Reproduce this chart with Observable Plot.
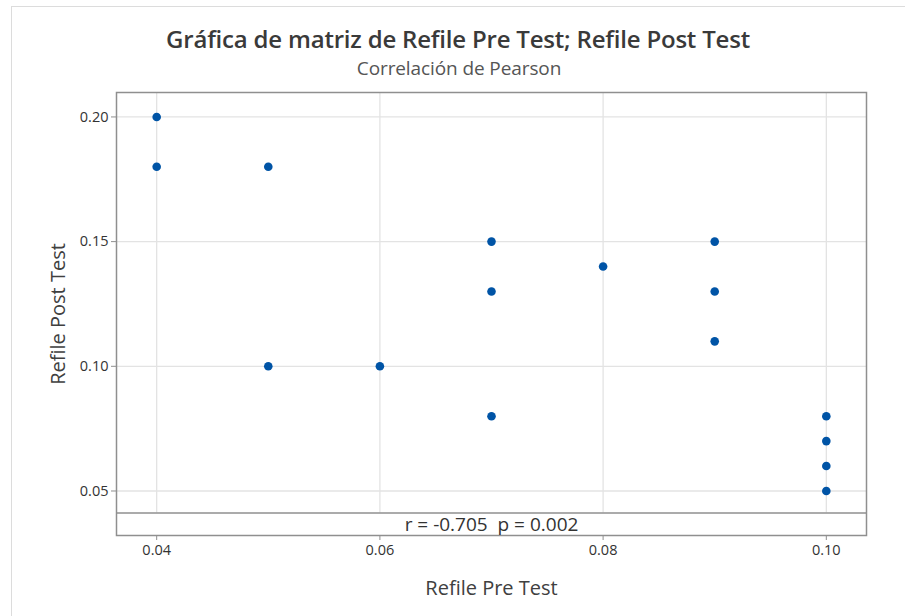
<!DOCTYPE html>
<html>
<head>
<meta charset="utf-8">
<script src="https://cdn.jsdelivr.net/npm/d3@7"></script>
<script src="https://cdn.jsdelivr.net/npm/@observablehq/plot@0.6"></script>
<style>
  html, body { margin: 0; padding: 0; background: #fff; }
  #wrap { position: relative; width: 905px; height: 616px; overflow: hidden; background: #fff; }
  #border { position: absolute; z-index: 2; left: 11px; top: 6px; right: -5px; bottom: -5px; border-left: 1.5px solid #dcdcdc; border-top: 1.5px solid #dcdcdc; pointer-events: none; }
  #title { position: absolute; left: 0; width: 916px; top: 22px; text-align: center; font-family: "Open Sans", sans-serif; font-weight: 600; font-size: 24px; color: #3a3a3a; letter-spacing: -0.2px; }
  #subtitle { position: absolute; left: 0; width: 918px; top: 55px; text-align: center; font-family: "Open Sans", sans-serif; font-size: 19px; color: #555; letter-spacing: -0.1px; }
  #chart { position: absolute; left: 0; top: 80px; }
</style>
</head>
<body>
<div id="wrap">
  <div id="border"></div>
  <div id="title">Gráfica de matriz de Refile Pre Test; Refile Post Test</div>
  <div id="subtitle">Correlación de Pearson</div>
  <div id="chart"></div>
</div>
<script>
const preTest  = [0.04, 0.04, 0.05, 0.05, 0.06, 0.07, 0.07, 0.07, 0.08, 0.09, 0.09, 0.09, 0.10, 0.10, 0.10, 0.10];
const postTest = [0.20, 0.18, 0.18, 0.10, 0.10, 0.15, 0.13, 0.08, 0.14, 0.15, 0.13, 0.11, 0.08, 0.07, 0.06, 0.05];
const xTicks = [0.04, 0.06, 0.08, 0.10];
const yTicks = [0.05, 0.10, 0.15, 0.20];
const xLabel = "Refile Pre Test";
const yLabel = "Refile Post Test";
const statText = "r = -0.705\u00a0 p = 0.002";

const data = preTest.map((x, i) => ({x, y: postTest[i]}));
const xDomain = [0.0364, 0.1036];
const yDomain = [0.03215, 0.2098];
const bandTop = 0.04118;
const font = "'Open Sans', sans-serif";

const chart = Plot.plot({
  width: 905,
  height: 536,
  marginLeft: 116,
  marginRight: 39,
  marginTop: 12,
  marginBottom: 81,
  style: {fontFamily: font, background: "transparent", color: "#333"},
  x: {domain: xDomain},
  y: {domain: yDomain},
  marks: [
    Plot.gridX(xTicks, {stroke: "#e3e3e3", strokeOpacity: 1, strokeWidth: 1.3, y1: bandTop, y2: yDomain[1]}),
    Plot.gridY(yTicks, {stroke: "#e3e3e3", strokeOpacity: 1, strokeWidth: 1.3}),
    Plot.ruleY([bandTop], {stroke: "#8f8f8f", strokeWidth: 1.5}),
    Plot.frame({stroke: "#8f8f8f", strokeWidth: 1.5}),
    Plot.axisX({ticks: xTicks, tickFormat: ".2f", label: null, tickSize: 5, tickPadding: 4, fontSize: 14.5, stroke: "#8f8f8f", color: "#333"}),
    Plot.axisY({ticks: yTicks, tickFormat: ".2f", label: null, tickSize: 5, tickPadding: 3, fontSize: 14.5, stroke: "#8f8f8f", color: "#333"}),
    Plot.dot(data, {x: "x", y: "y", r: 4.3, fill: "#0054a6", stroke: "none"}),
    Plot.text([statText], {x: () => (xDomain[0] + xDomain[1]) / 2, y: () => (yDomain[0] + bandTop) / 2, text: d => d, fontSize: 19, fill: "#333", textAnchor: "middle", lineAnchor: "middle", dy: 1}),
    Plot.text([xLabel], {frameAnchor: "bottom", text: d => d, dy: 53, fontSize: 20, fill: "#404040", textAnchor: "middle", lineAnchor: "middle"}),
    Plot.text([yLabel], {frameAnchor: "left", text: d => d, dx: -58, rotate: -90, fontSize: 20, fill: "#404040", textAnchor: "middle", lineAnchor: "middle"})
  ]
});
document.getElementById("chart").appendChild(chart);
</script>
</body>
</html>
